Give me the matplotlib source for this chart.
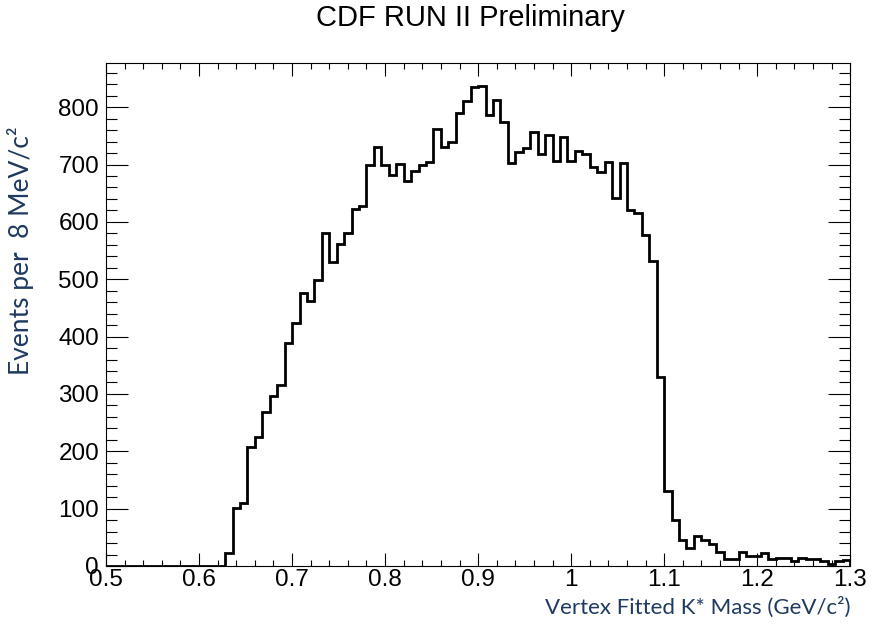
import numpy as np
import matplotlib
matplotlib.use("Agg")
import matplotlib.pyplot as plt
from matplotlib.ticker import MultipleLocator, FormatStrFormatter

# 100 bins of 8 MeV between 0.5 and 1.3 GeV
lo, hi, nbins = 0.5, 1.3, 100
counts = [0] * 16 + [
    23, 101, 109, 208, 225, 268, 297, 315, 389, 423,
    476, 462, 499, 580, 530, 562, 581, 622, 627, 700,
    730, 700, 681, 701, 671, 689, 699, 704, 762, 730,
    739, 790, 811, 835, 837, 786, 812, 774, 703, 721,
    728, 756, 719, 751, 706, 748, 706, 723, 719, 695,
    687, 704, 641, 703, 621, 616, 577, 532, 330, 131,
    80, 45, 31, 52, 45, 38, 25, 12, 12, 25,
    17, 17, 23, 13, 14, 14, 9, 14, 12, 12,
    9, 3, 8, 10,
]
edges = np.linspace(lo, hi, nbins + 1)

title = "CDF RUN II Preliminary"
ylabel = "Events per  8 MeV/c²"
xlabel = "Vertex Fitted K* Mass (GeV/c²)"
label_col = "#1f3a5f"

plt.rcParams['font.family'] = ['Liberation Sans', 'DejaVu Sans']

fig = plt.figure(figsize=(8.72, 6.35), dpi=100)
ax = fig.add_axes([0.1216, 0.1087, 0.8534, 0.7921])

ax.stairs(counts, edges, color='black', linewidth=2.0)

ax.set_xlim(lo, hi)
ax.set_ylim(0, 877)
ax.xaxis.set_major_locator(MultipleLocator(0.1))
ax.xaxis.set_minor_locator(MultipleLocator(0.02))
ax.yaxis.set_major_locator(MultipleLocator(100))
ax.yaxis.set_minor_locator(MultipleLocator(20))
ax.xaxis.set_major_formatter(FormatStrFormatter('%g'))

ax.tick_params(which='both', direction='in', top=True, right=True,
               labelsize=17.5, width=0.8)
ax.tick_params(axis='x', which='major', length=9.5, pad=2)
ax.tick_params(axis='x', which='minor', length=4.5)
ax.tick_params(axis='y', which='major', length=16, pad=5)
ax.tick_params(axis='y', which='minor', length=8)
for s in ax.spines.values():
    s.set_linewidth(0.8)

fig.text(0.540, 0.971, title, ha='center', va='center', fontsize=21)
fig.text(0.023, 0.605, ylabel, rotation=90, ha='center', va='center',
         fontsize=19, color=label_col, family=['Lato', 'DejaVu Sans'])
fig.text(0.975, 0.044, xlabel, ha='right', va='center',
         fontsize=16, color=label_col, family=['Lato', 'DejaVu Sans'])

fig.savefig("out.png", dpi=100)
